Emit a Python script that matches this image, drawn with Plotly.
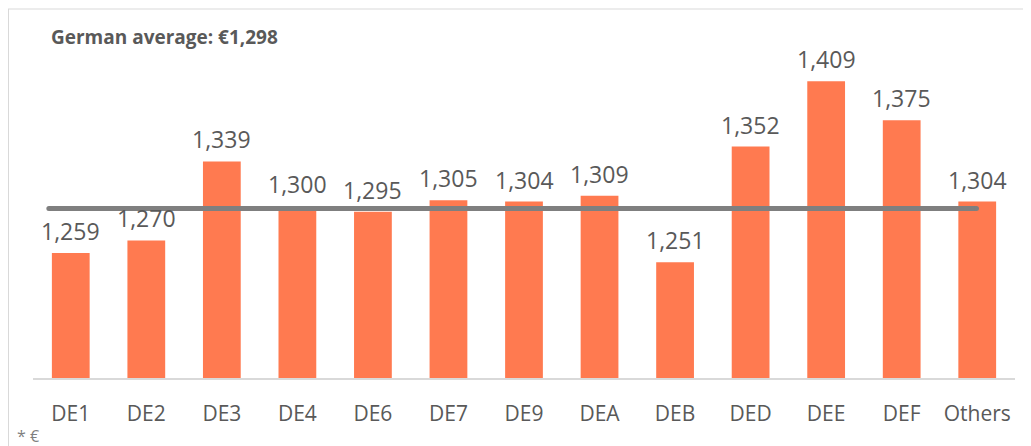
import plotly.graph_objects as go

categories = ["DE1", "DE2", "DE3", "DE4", "DE6", "DE7", "DE9", "DEA", "DEB", "DED", "DEE", "DEF", "Others"]
values = [1259, 1270, 1339, 1300, 1295, 1305, 1304, 1309, 1251, 1352, 1409, 1375, 1304]
german_average = 1298
title_text = "German average: €1,298"
footnote = "* €"

OFF = 8  # page body margin
W, H = 1031 - OFF, 446 - OFF
ML, MR, MT, MB = 33 - OFF, 1031 - 1015, 20 - OFF, 446 - 378
PW, PH = W - ML - MR, H - MT - MB

def px_x(p):
    return (p - OFF - ML) / PW

def px_y(p):
    return (H - MB - (p - OFF)) / PH

BAR = "#FF7A50"
TXT = "#595959"

xs = list(range(len(categories)))
fig = go.Figure()
fig.add_trace(go.Bar(x=xs, y=values, marker=dict(color=BAR, line=dict(width=0)),
                     width=0.5, hoverinfo="skip"))
fig.add_trace(go.Scatter(x=[-0.29, 11.99], y=[german_average, german_average],
                         mode="lines+markers", line=dict(color="#7F7F7F", width=5),
                         marker=dict(color="#7F7F7F", size=5), hoverinfo="skip"))

for i, v in enumerate(values):
    fig.add_annotation(x=i, y=v, text=f"{v:,}", showarrow=False, yanchor="bottom",
                       yshift=4, font=dict(family="Open Sans", size=23, color=TXT))

fig.add_annotation(xref="paper", yref="paper", x=px_x(49), y=px_y(37), text=f"<b>{title_text}</b>",
                   showarrow=False, xanchor="left", yanchor="middle",
                   font=dict(family="Open Sans", size=19, color=TXT))
fig.add_annotation(xref="paper", yref="paper", x=px_x(15), y=px_y(436), text=footnote,
                   showarrow=False, xanchor="left", yanchor="middle",
                   font=dict(family="Open Sans", size=16, color="#7F7F7F"))

fig.add_shape(type="line", xref="paper", yref="paper", x0=px_x(8.5), x1=px_x(8.5),
              y0=px_y(9), y1=px_y(446), line=dict(color="#D9D9D9", width=1))
fig.add_shape(type="line", xref="paper", yref="paper", x0=px_x(8), x1=px_x(1031),
              y0=px_y(9), y1=px_y(9), line=dict(color="#D9D9D9", width=1))

fig.update_layout(
    width=W, height=H, margin=dict(l=ML, r=MR, t=MT, b=MB),
    paper_bgcolor="white", plot_bgcolor="white", showlegend=False,
    xaxis=dict(range=[-0.5, 12.5], tickvals=xs, ticktext=categories, showgrid=False,
               zeroline=False, showline=True, linecolor="#D9D9D9", linewidth=1.5,
               ticks="outside", ticklen=16, tickcolor="rgba(0,0,0,0)",
               tickfont=dict(family="Open Sans", size=21, color=TXT), fixedrange=True),
    yaxis=dict(range=[1150, 1150 + PH / 1.146], visible=False, showgrid=False,
               zeroline=False, fixedrange=True),
)
fig.write_html("out.html")
